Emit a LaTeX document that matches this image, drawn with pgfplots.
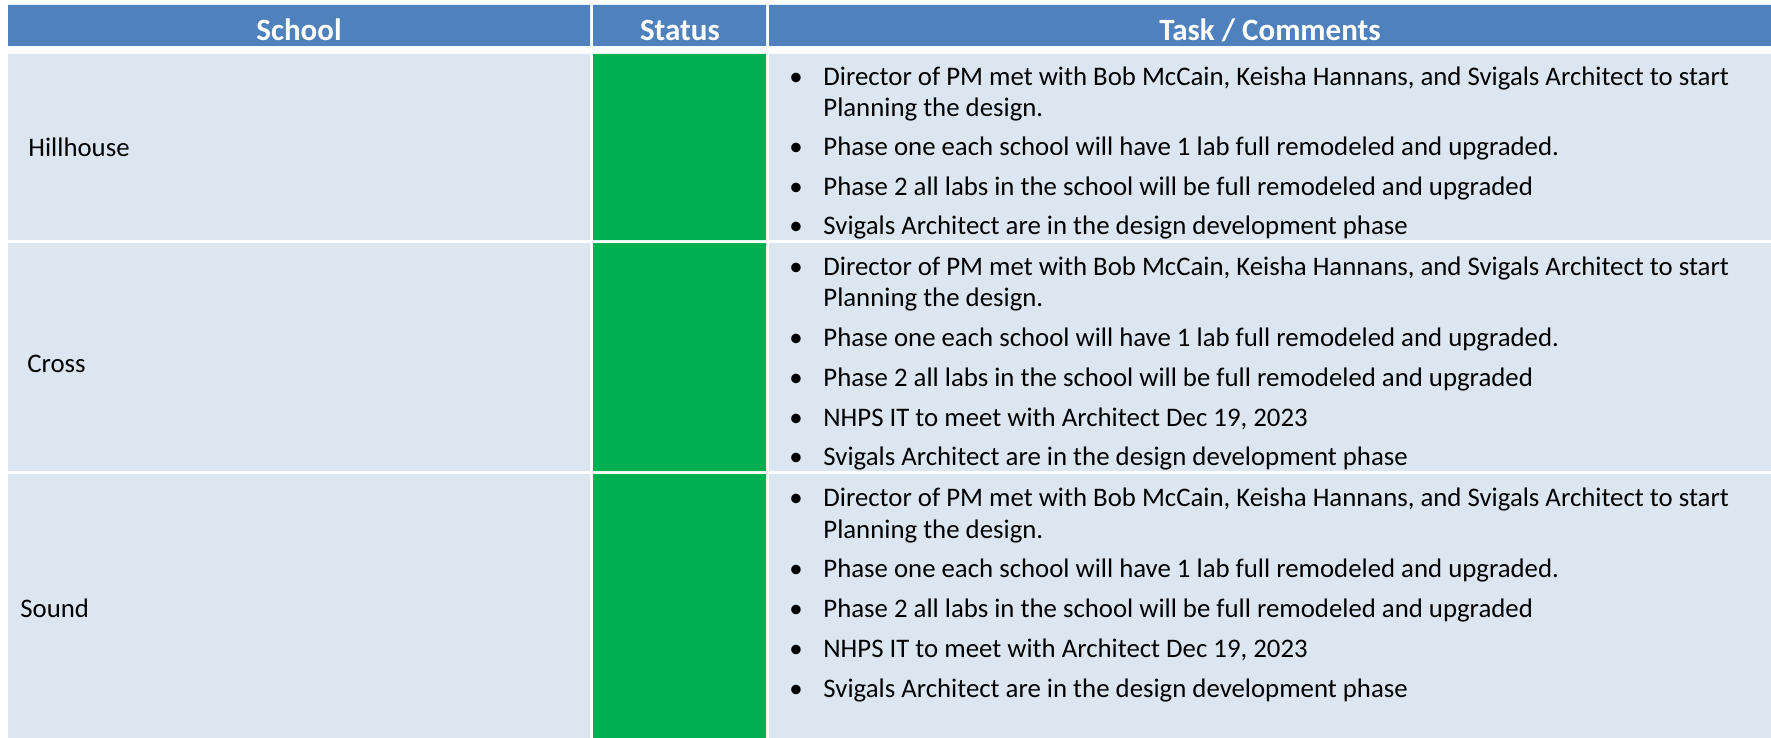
\documentclass[border=0pt]{standalone}
\usepackage{fontspec}
\setmainfont{Carlito}
\usepackage{pgfplots}
\pgfplotsset{compat=1.18}
\definecolor{hdr}{HTML}{4F81BD}
\definecolor{cellc}{HTML}{DCE6F1}
\definecolor{ok}{HTML}{00B050}
\newcommand{\bodyfont}{\fontsize{13.4}{16}\selectfont}
\newcommand{\hdrfont}{\fontsize{15.5}{18}\selectfont\bfseries}
\begin{document}
\begin{tikzpicture}
\begin{axis}[scale only axis, width=885.5pt, height=369pt,
  xmin=0, xmax=1771, ymin=0, ymax=738, y dir=reverse,
  hide axis, clip=false]
% background
\addplot[fill=white, draw=none] coordinates {(0,0) (1771,0) (1771,738) (0,738) (0,0)};
% header cells
\addplot[fill=hdr, draw=none] coordinates {(8,5) (590,5) (590,46) (8,46) (8,5)};
\addplot[fill=hdr, draw=none] coordinates {(593,5) (766,5) (766,46) (593,46) (593,5)};
\addplot[fill=hdr, draw=none] coordinates {(769,5) (1771,5) (1771,46) (769,46) (769,5)};
% school cells
\addplot[fill=cellc, draw=none] coordinates {(8,54) (590,54) (590,240) (8,240) (8,54)};
\addplot[fill=cellc, draw=none] coordinates {(8,243) (590,243) (590,471) (8,471) (8,243)};
\addplot[fill=cellc, draw=none] coordinates {(8,474) (590,474) (590,738) (8,738) (8,474)};
% status cells (all green)
\addplot[fill=ok, draw=none] coordinates {(593,54) (766,54) (766,240) (593,240) (593,54)};
\addplot[fill=ok, draw=none] coordinates {(593,243) (766,243) (766,471) (593,471) (593,243)};
\addplot[fill=ok, draw=none] coordinates {(593,474) (766,474) (766,738) (593,738) (593,474)};
% comment cells
\addplot[fill=cellc, draw=none] coordinates {(769,54) (1771,54) (1771,240) (769,240) (769,54)};
\addplot[fill=cellc, draw=none] coordinates {(769,243) (1771,243) (1771,471) (769,471) (769,243)};
\addplot[fill=cellc, draw=none] coordinates {(769,474) (1771,474) (1771,738) (769,738) (769,474)};
% header text
\node[text=white, font=\hdrfont, anchor=mid, inner sep=0pt] at (axis cs:299,36) {School};
\node[text=white, font=\hdrfont, anchor=mid, inner sep=0pt] at (axis cs:680,36) {Status};
\node[text=white, font=\hdrfont, anchor=mid, inner sep=0pt] at (axis cs:1270,36) {Task / Comments};
% school names
\node[font=\bodyfont, anchor=mid west, inner sep=0pt] at (axis cs:28,152) {Hillhouse};
\node[font=\bodyfont, anchor=mid west, inner sep=0pt] at (axis cs:27,368) {Cross};
\node[font=\bodyfont, anchor=mid west, inner sep=0pt] at (axis cs:20,613) {Sound};
% comments
\foreach \yy/\txt/\b in {
  81/{Director of PM met with Bob McCain, Keisha Hannans, and Svigals Architect to start}/1,
  112/{Planning the design.}/0,
  151/{Phase one each school will have 1 lab full remodeled and upgraded.}/1,
  191/{Phase 2 all labs in the school will be full remodeled and upgraded}/1,
  230/{Svigals Architect are in the design development phase}/1,
  271/{Director of PM met with Bob McCain, Keisha Hannans, and Svigals Architect to start}/1,
  302/{Planning the design.}/0,
  342/{Phase one each school will have 1 lab full remodeled and upgraded.}/1,
  382/{Phase 2 all labs in the school will be full remodeled and upgraded}/1,
  422/{NHPS IT to meet with Architect Dec 19, 2023}/1,
  461/{Svigals Architect are in the design development phase}/1,
  502/{Director of PM met with Bob McCain, Keisha Hannans, and Svigals Architect to start}/1,
  534/{Planning the design.}/0,
  573/{Phase one each school will have 1 lab full remodeled and upgraded.}/1,
  613/{Phase 2 all labs in the school will be full remodeled and upgraded}/1,
  653/{NHPS IT to meet with Architect Dec 19, 2023}/1,
  693/{Svigals Architect are in the design development phase}/1}
{
  \edef\temp{\noexpand\node[font=\noexpand\bodyfont, anchor=mid west, inner sep=0pt] at (axis cs:823,\yy) {\unexpanded\expandafter{\txt}};}
  \temp
  \ifnum\b=1
    \edef\temp{\noexpand\node[font=\noexpand\bodyfont, anchor=mid, inner sep=0pt] at (axis cs:796,\yy) {\noexpand\textbullet};}
    \temp
  \fi
}
\end{axis}
\end{tikzpicture}
\end{document}
